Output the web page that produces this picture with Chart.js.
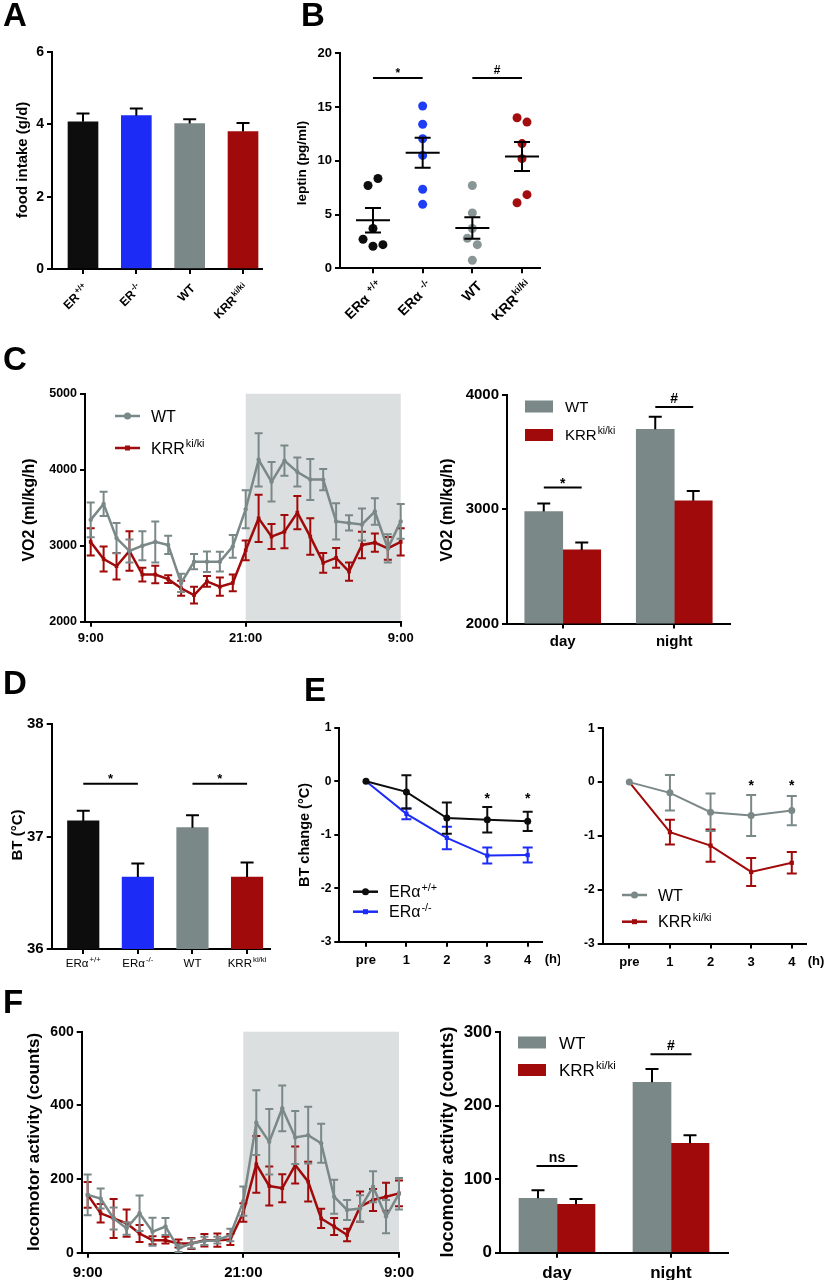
<!DOCTYPE html>
<html>
<head>
<meta charset="utf-8">
<script src="https://cdn.jsdelivr.net/npm/chart.js@4.4.1/dist/chart.umd.min.js"></script>
<style>
  body { margin: 0; background: #fff; width: 830px; height: 1280px; position: relative; overflow: hidden;
         font-family: "Liberation Sans", Arial, Helvetica, sans-serif; }
  canvas { position: absolute; }
  .tag { position: absolute; font-weight: bold; font-size: 33px; line-height: 1; z-index: 2; }
</style>
</head>
<body>
<div class="tag" style="left:3px;top:-2px">A</div>
<div class="tag" style="left:301px;top:-2px">B</div>
<div class="tag" style="left:3px;top:342px">C</div>
<div class="tag" style="left:3px;top:666px">D</div>
<div class="tag" style="left:304px;top:673px">E</div>
<div class="tag" style="left:3px;top:985px">F</div>
<script>
// ---------- data ----------
// A: food intake
const aLabels = ['ER^+/+', 'ER^-/-', 'WT', 'KRR^ki/ki'];
const aFood = [4.07, 4.24, 4.02, 3.80];
const aFoodSem = [0.23, 0.20, 0.12, 0.24];

// B: leptin, individual animals
const bLabels = ['ERα ^+/+', 'ERα ^-/-', 'WT', 'KRR^ki/ki'];
const bEraWt = [8.35, 7.7, 3.7, 2.7, 2.05, 2.2];
const bEraWtJit = [0.1, -0.1, 0, -0.2, 0, 0.2];
const bEraKo = [15.1, 13.4, 12.05, 10.5, 7.35, 5.95];
const bEraKoJit = [0, 0, 0, 0, 0, 0];
const bWt = [7.7, 5.15, 3.7, 2.8, 2.2, 0.75];
const bWtJit = [0, 0, 0, -0.1, 0.1, 0];
const bKrr = [14.0, 13.6, 11.6, 10.2, 6.1, 6.85];
const bKrrJit = [-0.1, 0.1, 0, 0, -0.1, 0.1];
const bMeans = [4.47, 10.75, 3.75, 10.4];
const bSem = [1.15, 1.4, 1.0, 1.35];
const bSig = [{ x1: 1, x2: 2, y: 17.7, text: '*' }, { x1: 3, x2: 4, y: 17.7, text: '#' }];

// C: VO2 over 24 h (hourly, 9:00 -> 9:00)
const hours = [0, 1, 2, 3, 4, 5, 6, 7, 8, 9, 10, 11, 12, 13, 14, 15, 16, 17, 18, 19, 20, 21, 22, 23, 24];
const hourTicks = [0, 12, 24];
const hourLabels = ['9:00', '21:00', '9:00'];
const cWt = [3340, 3550, 3100, 2930, 3000, 3050, 3010, 2510, 2790, 2790, 2790, 2990, 3480,
             4130, 3840, 4120, 3970, 3870, 3870, 3320, 3300, 3280, 3450, 2965, 3320];
const cWtSem = [230, 160, 200, 150, 190, 270, 120, 120, 100, 135, 130, 150, 250,
                350, 260, 200, 190, 270, 140, 240, 100, 210, 175, 185, 230];
const cKrr = [3050, 2825, 2730, 2930, 2620, 2620, 2560, 2440, 2350, 2530, 2460, 2510, 2940,
              3360, 3120, 3185, 3435, 3120, 2775, 2840, 2660, 3010, 3040, 2965, 3050];
const cKrrSem = [180, 165, 175, 260, 90, 115, 50, 100, 110, 70, 120, 110, 130,
                 310, 165, 220, 220, 240, 130, 130, 120, 175, 120, 150, 180];
const periods = ['day', 'night'];
const cBarWt = [2980, 3700];
const cBarWtSem = [70, 110];
const cBarKrr = [2645, 3075];
const cBarKrrSem = [65, 85];
const cSig = [{ x1: -0.17, x2: 0.17, y: 3190, text: '*' }, { x1: 0.83, x2: 1.17, y: 3895, text: '#' }];

// D: body temperature
const dLabels = ['ERα^+/+', 'ERα^-/-', 'WT', 'KRR^ki/ki'];
const dBt = [37.14, 36.64, 37.08, 36.64];
const dBtSem = [0.09, 0.12, 0.11, 0.13];
const dSig = [{ x1: 1, x2: 2, y: 37.47, text: '*' }, { x1: 3, x2: 4, y: 37.47, text: '*' }];

// E: BT change after fasting
const eTimes = ['pre', '1', '2', '3', '4'];
const eX = [0, 1, 2, 3, 4];
const eEraWt = [0, -0.2, -0.69, -0.72, -0.75];
const eEraWtSem = [0, 0.31, 0.29, 0.24, 0.18];
const eEraKo = [0, -0.61, -1.06, -1.39, -1.38];
const eEraKoSem = [0, 0.1, 0.21, 0.15, 0.14];
const eWt = [0, -0.2, -0.56, -0.62, -0.53];
const eWtSem = [0, 0.33, 0.35, 0.38, 0.27];
const eKrr = [0, -0.93, -1.18, -1.67, -1.5];
const eKrrSem = [0, 0.23, 0.3, 0.26, 0.2];
const eStarsL = [{ x: 3, y: -0.25 }, { x: 4, y: -0.25 }];
const eStarsR = [{ x: 3, y: 0.0 }, { x: 4, y: 0.0 }];

// F: locomotor activity
const fWt = [157, 147, 93, 66, 107, 57, 71, 12, 25, 32, 34, 48, 140,
             353, 301, 392, 313, 319, 297, 152, 116, 120, 179, 98, 160];
const fWtSem = [55, 27, 30, 17, 48, 38, 23, 10, 13, 11, 9, 17, 40,
                88, 89, 62, 72, 77, 53, 46, 27, 36, 42, 45, 43];
const fKrr = [157, 107, 93, 80, 52, 34, 34, 25, 25, 34, 34, 36, 109,
              240, 181, 175, 238, 193, 93, 71, 48, 125, 143, 152, 161];
const fKrrSem = [35, 25, 53, 37, 23, 11, 9, 11, 15, 17, 18, 15, 25,
                 77, 53, 38, 50, 54, 26, 23, 17, 41, 30, 38, 35];
const fBarWt = [74, 232];
const fBarWtSem = [11, 18];
const fBarKrr = [66, 149];
const fBarKrrSem = [7, 11];
const fSig = [{ x1: -0.18, x2: 0.18, y: 118, text: 'ns' }, { x1: 0.82, x2: 1.18, y: 270, text: '#' }];

// ---------- styles ----------
const FONT = '"Liberation Sans", Arial, Helvetica, sans-serif';
const BLACK = '#0d0d0d', BLUE = '#1c2cf6', GREY = '#7b8888', GREYPT = '#8a9696', RED = '#a00a0a', SHADE = '#dcdfdf';
Chart.defaults.font.family = FONT;
Chart.defaults.color = '#000';

// text with an optional superscript part after '^'
function richText(c, str, x, y, size, weight, align) {
  const parts = str.split('^');
  const sup = size * 0.68;
  c.font = weight + ' ' + size + 'px ' + FONT;
  const bw = c.measureText(parts[0]).width;
  let sw = 0;
  if (parts[1]) { c.font = weight + ' ' + sup + 'px ' + FONT; sw = c.measureText(parts[1]).width + 1; }
  let x0 = x;
  if (align === 'right') x0 = x - bw - sw;
  else if (align === 'center') x0 = x - (bw + sw) / 2;
  c.textAlign = 'left';
  c.textBaseline = 'alphabetic';
  c.font = weight + ' ' + size + 'px ' + FONT;
  c.fillText(parts[0], x0, y);
  if (parts[1]) {
    c.font = weight + ' ' + sup + 'px ' + FONT;
    c.fillText(parts[1], x0 + bw + 1, y - size * 0.4);
  }
}

function titleY(c, text, x, y, size) {
  c.save();
  c.translate(x, y);
  c.rotate(-Math.PI / 2);
  c.fillStyle = '#000';
  c.font = 'bold ' + size + 'px ' + FONT;
  c.textAlign = 'center';
  c.textBaseline = 'middle';
  c.fillText(text, 0, 0);
  c.restore();
}

function legendLine(c, x, y, color, marker, label, size) {
  c.save();
  c.strokeStyle = color; c.fillStyle = color; c.lineWidth = 2.5;
  c.beginPath(); c.moveTo(x, y); c.lineTo(x + 25, y); c.stroke();
  if (marker === 'rect') c.fillRect(x + 10, y - 2.5, 5, 5);
  else { c.beginPath(); c.arc(x + 12.5, y, 3.5, 0, Math.PI * 2); c.fill(); }
  c.fillStyle = '#000';
  richText(c, label, x + 36, y + size * 0.36, size, 'normal', 'left');
  c.restore();
}

function legendBox(c, x, y, color, label, size, gap) {
  c.save();
  c.fillStyle = color;
  c.fillRect(x, y - 6, 28, 12);
  c.fillStyle = '#000';
  richText(c, label, x + 28 + gap, y + size * 0.36, size, 'normal', 'left');
  c.restore();
}

function sigMark(chart, m, size) {
  const c = chart.ctx, xs = chart.scales.x, ys = chart.scales.y;
  const x1 = xs.getPixelForValue(m.x1), x2 = xs.getPixelForValue(m.x2), y = ys.getPixelForValue(m.y);
  c.save();
  c.strokeStyle = '#000'; c.lineWidth = 2;
  c.beginPath(); c.moveTo(x1, y); c.lineTo(x2, y); c.stroke();
  c.fillStyle = '#000';
  c.font = 'bold ' + size + 'px ' + FONT;
  c.textAlign = 'center'; c.textBaseline = 'alphabetic';
  const base = m.text === '*' ? y - 8 + 0.57 * size : y - 4;
  c.fillText(m.text, (x1 + x2) / 2, base);
  c.restore();
}

function star(chart, s, size) {
  const c = chart.ctx;
  const x = chart.scales.x.getPixelForValue(s.x), y = chart.scales.y.getPixelForValue(s.y);
  c.save();
  c.fillStyle = '#000';
  c.font = 'bold ' + size + 'px ' + FONT;
  c.textAlign = 'center'; c.textBaseline = 'alphabetic';
  c.fillText('*', x, y + 0.57 * size);
  c.restore();
}

function drawErrors(chart, idx) {
  const ds = chart.data.datasets[idx];
  if (!ds.errs) return;
  const meta = chart.getDatasetMeta(idx);
  const ys = chart.scales.y, c = chart.ctx;
  c.save();
  c.strokeStyle = ds.errColor; c.lineWidth = 2;
  meta.data.forEach((el, i) => {
    const d = ds.data[i];
    const v = typeof d === 'number' ? d : d.y;
    const e = ds.errs[i];
    if (!e) return;
    const top = ys.getPixelForValue(v + e);
    const bot = ds.errUp ? ys.getPixelForValue(v) : ys.getPixelForValue(v - e);
    c.beginPath();
    c.moveTo(el.x, top); c.lineTo(el.x, bot);
    c.moveTo(el.x - ds.cap, top); c.lineTo(el.x + ds.cap, top);
    if (!ds.errUp) { c.moveTo(el.x - ds.cap, bot); c.lineTo(el.x + ds.cap, bot); }
    c.stroke();
  });
  c.restore();
}

function rotLabels(chart, labels, size, dx, dy) {
  const c = chart.ctx, xs = chart.scales.x, bottom = chart.chartArea.bottom;
  labels.forEach((lab, i) => {
    const x = xs.getPixelForValue(i + 1);
    c.save();
    c.translate(x + dx, bottom + dy);
    c.rotate(-Math.PI / 4);
    c.fillStyle = '#000';
    richText(c, lab, 0, size * 0.36, size, 'bold', 'right');
    c.restore();
  });
}

function yAxis(min, max, step, size) {
  return {
    type: 'linear', min, max,
    grid: { drawOnChartArea: false, drawTicks: true, tickLength: 5, color: '#000', lineWidth: 2 },
    border: { display: true, color: '#000', width: 2 },
    ticks: { stepSize: step, color: '#000', font: { size, weight: 'bold' }, padding: 3, callback: v => String(v) }
  };
}

function xLinear(min, max, tickVals, labels, size, pad) {
  return {
    type: 'linear', min, max, offset: false,
    grid: { drawOnChartArea: false, drawTicks: true, tickLength: 5, color: '#000', lineWidth: 2, offset: false },
    border: { display: true, color: '#000', width: 2 },
    afterBuildTicks: s => { s.ticks = tickVals.map(v => ({ value: v })); },
    ticks: {
      display: !!labels, autoSkip: false, maxRotation: 0, color: '#000', padding: pad || 3,
      font: { size: size || 12, weight: 'bold' },
      callback: (v, i) => labels ? labels[i] : ''
    }
  };
}

function xCategory(size, pad) {
  return {
    type: 'category', offset: true,
    grid: { drawOnChartArea: false, drawTicks: true, tickLength: 5, color: '#000', lineWidth: 2, offset: false },
    border: { display: true, color: '#000', width: 2 },
    ticks: { color: '#000', padding: pad, font: { size, weight: 'bold' }, maxRotation: 0 }
  };
}

// one canvas per panel; plot = exact plot area in page pixels
function panel(box, plot, cfg, draw) {
  const cv = document.createElement('canvas');
  cv.width = box.w; cv.height = box.h;
  cv.style.left = box.x + 'px'; cv.style.top = box.y + 'px';
  cv.style.width = box.w + 'px'; cv.style.height = box.h + 'px';
  document.body.appendChild(cv);
  const o = cfg.options;
  o.responsive = false;
  o.animation = false;
  o.devicePixelRatio = 1;
  o.layout = { padding: { top: plot.t - box.y, right: box.x + box.w - plot.r, left: 0, bottom: 0 } };
  o.plugins = { legend: { display: false }, tooltip: { enabled: false } };
  o.scales.x.afterFit = s => { s.height = box.y + box.h - plot.b; };
  o.scales.y.afterFit = s => { s.width = plot.l - box.x; };
  cfg.plugins = [{
    id: 'extras',
    beforeDraw(chart) {
      if (draw.before) draw.before(chart, chart.ctx);
    },
    afterDatasetDraw(chart, args) { drawErrors(chart, args.index); },
    afterDraw(chart) {
      const c = chart.ctx;
      if (draw.data) draw.data(chart, c);
      if (draw.page) {
        c.save();
        c.translate(-box.x, -box.y);
        draw.page(chart, c);
        c.restore();
      }
    }
  }];
  return new Chart(cv, cfg);
}

function lineSet(xs, ys, errs, color, marker, radius, width, cap) {
  return {
    data: xs.map((x, i) => ({ x, y: ys[i] })),
    borderColor: color, backgroundColor: color, borderWidth: width,
    pointRadius: radius, pointHoverRadius: radius, pointStyle: marker, pointBorderWidth: 0,
    tension: 0, clip: false, errs, errColor: color, cap
  };
}

function shadeNight(chart, c) {
  const xs = chart.scales.x, a = chart.chartArea;
  c.save();
  c.fillStyle = SHADE;
  const x1 = xs.getPixelForValue(12), x2 = xs.getPixelForValue(24);
  c.fillRect(x1, a.top, x2 - x1, a.bottom - a.top - 1);
  c.restore();
}

// ---------- A ----------
panel({ x: 0, y: 30, w: 290, h: 290 }, { l: 52, t: 52, r: 262, b: 269 }, {
  type: 'bar',
  data: { datasets: [{
    data: aFood.map((v, i) => ({ x: i + 1, y: v })),
    backgroundColor: [BLACK, BLUE, GREY, RED], barThickness: 30,
    errs: aFoodSem, errUp: true, errColor: '#000', cap: 6.5
  }] },
  options: { scales: { x: xLinear(0.419, 4.356, [1, 2, 3, 4], null), y: yAxis(0, 6, 2, 14) } }
}, {
  data: chart => rotLabels(chart, aLabels, 12, 3, 17),
  page: (chart, c) => titleY(c, 'food intake (g/d)', 23, 160, 15)
});

// ---------- B ----------
panel({ x: 290, y: 30, w: 260, h: 290 }, { l: 340, t: 53.3, r: 540, b: 268.3 }, {
  type: 'scatter',
  data: { datasets: [
    [bEraWt, bEraWtJit, BLACK], [bEraKo, bEraKoJit, '#1f3df5'], [bWt, bWtJit, GREYPT], [bKrr, bKrrJit, '#a30d0d']
  ].map(([vals, jit, col], g) => ({
    data: vals.map((v, i) => ({ x: g + 1 + jit[i], y: v })),
    backgroundColor: col, pointRadius: 4.5, pointBorderWidth: 0, clip: false
  })) },
  options: { scales: { x: xLinear(0.336, 4.362, [1, 2, 3, 4], null), y: yAxis(0, 20, 5, 13) } }
}, {
  data: (chart, c) => {
    const xs = chart.scales.x, ys = chart.scales.y;
    c.save();
    c.strokeStyle = '#000'; c.lineWidth = 2;
    bMeans.forEach((m, i) => {
      const x = xs.getPixelForValue(i + 1), y = ys.getPixelForValue(m);
      const yt = ys.getPixelForValue(m + bSem[i]), yb = ys.getPixelForValue(m - bSem[i]);
      c.beginPath();
      c.moveTo(x - 17, y); c.lineTo(x + 17, y);
      c.moveTo(x, yt); c.lineTo(x, yb);
      c.moveTo(x - 8, yt); c.lineTo(x + 8, yt);
      c.moveTo(x - 8, yb); c.lineTo(x + 8, yb);
      c.stroke();
    });
    c.restore();
    bSig.forEach(m => sigMark(chart, m, 12));
    rotLabels(chart, bLabels, 14, 7, 15);
  },
  page: (chart, c) => titleY(c, 'leptin (pg/ml)', 302, 163, 13.5)
});

// ---------- C left ----------
panel({ x: 0, y: 370, w: 420, h: 280 }, { l: 85, t: 393.7, r: 400.7, b: 621.7 }, {
  type: 'line',
  data: { datasets: [
    lineSet(hours, cWt, cWtSem, GREY, 'circle', 2.2, 2.5, 4),
    lineSet(hours, cKrr, cKrrSem, RED, 'rect', 2.6, 2.5, 4)
  ] },
  options: { scales: { x: xLinear(-0.441, 24, hourTicks, hourLabels, 13, 4), y: yAxis(2000, 5000, 1000, 12.5) } }
}, {
  before: shadeNight,
  page: (chart, c) => {
    titleY(c, 'VO2 (ml/kg/h)', 30, 510, 16);
    legendLine(c, 115, 416, GREY, 'circle', 'WT', 16);
    legendLine(c, 115, 448, RED, 'rect', 'KRR^ki/ki', 16);
  }
});

// ---------- C right ----------
panel({ x: 420, y: 370, w: 410, h: 280 }, { l: 507, t: 395, r: 730, b: 623.6 }, {
  type: 'bar',
  data: { labels: periods, datasets: [
    { data: cBarWt, backgroundColor: GREY, barThickness: 38, errs: cBarWtSem, errUp: true, errColor: '#000', cap: 6.5 },
    { data: cBarKrr, backgroundColor: RED, barThickness: 38, errs: cBarKrrSem, errUp: true, errColor: '#000', cap: 6.5 }
  ] },
  options: { scales: { x: xCategory(15, 4), y: yAxis(2000, 4000, 1000, 15) } }
}, {
  data: chart => cSig.forEach(m => sigMark(chart, m, 14)),
  page: (chart, c) => {
    titleY(c, 'VO2 (ml/kg/h)', 448, 510, 16);
    legendBox(c, 525, 406.5, GREY, 'WT', 15, 12);
    legendBox(c, 525, 435, RED, 'KRR^ki/ki', 15, 12);
  }
});

// ---------- D ----------
panel({ x: 0, y: 700, w: 290, h: 275 }, { l: 51.7, t: 724.3, r: 270, b: 949 }, {
  type: 'bar',
  data: { datasets: [{
    data: dBt.map((v, i) => ({ x: i + 1, y: v })),
    backgroundColor: [BLACK, BLUE, GREY, RED], barThickness: 31.5,
    errs: dBtSem, errUp: true, errColor: '#000', cap: 6.5
  }] },
  options: { scales: { x: xLinear(0.422, 4.42, [1, 2, 3, 4], null), y: yAxis(36, 38, 1, 15) } }
}, {
  data: (chart, c) => {
    dSig.forEach(m => sigMark(chart, m, 13));
    const xs = chart.scales.x;
    c.save(); c.fillStyle = '#000';
    dLabels.forEach((lab, i) => richText(c, lab, xs.getPixelForValue(i + 1), chart.chartArea.bottom + 18, 11.5, 'normal', 'center'));
    c.restore();
  },
  page: (chart, c) => titleY(c, 'BT (°C)', 18, 835, 15)
});

// ---------- E left ----------
panel({ x: 290, y: 700, w: 270, h: 275 }, { l: 339.3, t: 727.7, r: 542, b: 941.7 }, {
  type: 'line',
  data: { datasets: [
    lineSet(eX, eEraWt, eEraWtSem, BLACK, 'circle', 3.5, 2, 5),
    lineSet(eX, eEraKo, eEraKoSem, BLUE, 'rect', 3, 2, 5)
  ] },
  options: { scales: { x: xLinear(-0.66, 4.354, eX, eTimes, 13, 6), y: yAxis(-3, 1, 1, 12) } }
}, {
  data: chart => eStarsL.forEach(s => star(chart, s, 14)),
  page: (chart, c) => {
    titleY(c, 'BT change (°C)', 305, 835, 14.5);
    legendLine(c, 353, 891.7, BLACK, 'circle', 'ERα^+/+', 16);
    legendLine(c, 353, 911.7, BLUE, 'rect', 'ERα^-/-', 16);
    c.save(); c.fillStyle = '#000'; c.font = 'bold 13px ' + FONT; c.textAlign = 'center'; c.textBaseline = 'top';
    c.fillText('(h)', 553, 952.7); c.restore();
  }
});

// ---------- E right ----------
panel({ x: 560, y: 700, w: 270, h: 275 }, { l: 602.7, t: 728.3, r: 806, b: 943.5 }, {
  type: 'line',
  data: { datasets: [
    lineSet(eX, eWt, eWtSem, GREY, 'circle', 3.5, 2, 5),
    lineSet(eX, eKrr, eKrrSem, RED, 'rect', 3, 2, 5)
  ] },
  options: { scales: { x: xLinear(-0.655, 4.35, eX, eTimes, 13, 6), y: yAxis(-3, 1, 1, 12) } }
}, {
  data: chart => eStarsR.forEach(s => star(chart, s, 14)),
  page: (chart, c) => {
    legendLine(c, 622, 895, GREY, 'circle', 'WT', 16);
    legendLine(c, 622, 921.7, RED, 'rect', 'KRR^ki/ki', 16);
    c.save(); c.fillStyle = '#000'; c.font = 'bold 13px ' + FONT; c.textAlign = 'center'; c.textBaseline = 'top';
    c.fillText('(h)', 816, 954.5); c.restore();
  }
});

// ---------- F left ----------
panel({ x: 0, y: 1010, w: 420, h: 270 }, { l: 81.7, t: 1031.7, r: 401, b: 1252.7 }, {
  type: 'line',
  data: { datasets: [
    lineSet(hours, fWt, fWtSem, GREY, 'circle', 2.2, 2.5, 4),
    lineSet(hours, fKrr, fKrrSem, RED, 'rect', 2.6, 2.5, 4)
  ] },
  options: { scales: { x: xLinear(-0.46, 24, hourTicks, hourLabels, 15, 6), y: yAxis(0, 600, 200, 14) } }
}, {
  before: shadeNight,
  page: (chart, c) => titleY(c, 'locomotor activity (counts)', 34, 1142, 17)
});

// ---------- F right ----------
panel({ x: 420, y: 1010, w: 410, h: 270 }, { l: 500, t: 1032.3, r: 728, b: 1252.7 }, {
  type: 'bar',
  data: { labels: periods, datasets: [
    { data: fBarWt, backgroundColor: GREY, barThickness: 38, errs: fBarWtSem, errUp: true, errColor: '#000', cap: 6.5 },
    { data: fBarKrr, backgroundColor: RED, barThickness: 38, errs: fBarKrrSem, errUp: true, errColor: '#000', cap: 6.5 }
  ] },
  options: { scales: { x: xCategory(17, 5), y: yAxis(0, 300, 100, 17) } }
}, {
  data: chart => fSig.forEach(m => sigMark(chart, m, 14)),
  page: (chart, c) => {
    titleY(c, 'locomotor activity (counts)', 448, 1142, 18);
    legendBox(c, 518, 1042.5, GREY, 'WT', 17, 13);
    legendBox(c, 518, 1070, RED, 'KRR^ki/ki', 17, 13);
  }
});
</script>
</body>
</html>
